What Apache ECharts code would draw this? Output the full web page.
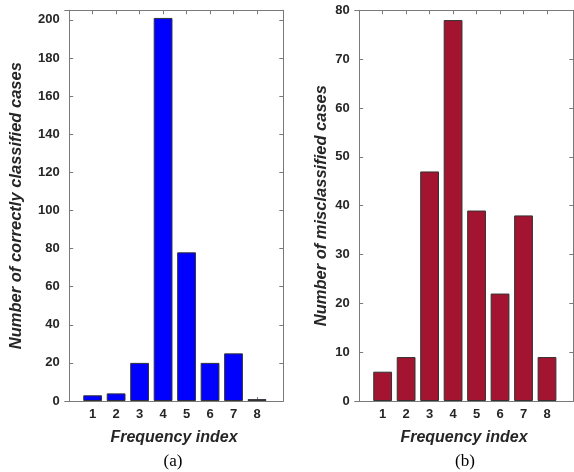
<!DOCTYPE html>
<html>
<head>
<meta charset="utf-8">
<script src="https://cdn.jsdelivr.net/npm/echarts@6/dist/echarts.min.js"></script>
<style>html,body{margin:0;padding:0;background:#fff}#c{width:574px;height:472px}</style>
</head>
<body>
<div id="c"></div>
<script>
const categories = [1, 2, 3, 4, 5, 6, 7, 8];
const correctCases = [3, 4, 20, 201, 78, 20, 25, 1];
const misCases = [6, 9, 47, 78, 39, 22, 38, 9];
const yTicksA = [0, 20, 40, 60, 80, 100, 120, 140, 160, 180, 200];
const yTicksB = [0, 10, 20, 30, 40, 50, 60, 70, 80];
const xTicks = [1, 2, 3, 4, 5, 6, 7, 8];
const xTitle = 'Frequency index';
const yTitleA = 'Number of correctly classified cases';
const yTitleB = 'Number of misclassified cases';
const panelA = '(a)';
const panelB = '(b)';

const axisColor = '#7a7a7a';
const labelColor = '#262626';
const labelFont = { fontFamily: 'Liberation Sans', fontWeight: 'bold', fontSize: 13, color: labelColor };
const xTitleFont = { fontFamily: 'Liberation Sans', fontWeight: 'bold', fontStyle: 'italic', fontSize: 16, color: labelColor };
const yTitleFont = { fontFamily: 'Liberation Sans', fontWeight: 'bold', fontStyle: 'italic', fontSize: 16.5, color: labelColor };
const XMIN = -0.19, XMAX = 9.12;

function xAxes(gi) {
  return [
    { type: 'value', gridIndex: gi, position: 'bottom', min: XMIN, max: XMAX,
      name: xTitle, nameLocation: 'middle', nameGap: 29, nameTextStyle: xTitleFont,
      axisLine: { show: true, lineStyle: { color: axisColor, width: 1 } },
      axisTick: { show: true, inside: true, length: 4, customValues: xTicks, lineStyle: { color: axisColor } },
      axisLabel: Object.assign({ show: true, margin: 7, customValues: xTicks }, labelFont),
      splitLine: { show: false } },
    { type: 'value', gridIndex: gi, position: 'top', min: XMIN, max: XMAX,
      axisLine: { show: true, onZero: false, lineStyle: { color: axisColor, width: 1 } },
      axisTick: { show: true, inside: true, length: 4, customValues: xTicks, lineStyle: { color: axisColor } },
      axisLabel: { show: false }, splitLine: { show: false } }
  ];
}
function yAxes(gi, max, ticks, title, gap) {
  return [
    { type: 'value', gridIndex: gi, position: 'left', min: 0, max: max,
      name: title, nameLocation: 'middle', nameGap: gap, nameTextStyle: yTitleFont,
      axisLine: { show: true, lineStyle: { color: axisColor, width: 1 } },
      axisTick: { show: true, inside: true, length: 4, customValues: ticks, lineStyle: { color: axisColor } },
      axisLabel: Object.assign({ show: true, margin: 5, customValues: ticks }, labelFont),
      splitLine: { show: false } },
    { type: 'value', gridIndex: gi, position: 'right', min: 0, max: max,
      axisLine: { show: true, onZero: false, lineStyle: { color: axisColor, width: 1 } },
      axisTick: { show: true, inside: true, length: 4, customValues: ticks, lineStyle: { color: axisColor } },
      axisLabel: { show: false }, splitLine: { show: false } }
  ];
}

const chart = echarts.init(document.getElementById('c'), null, { renderer: 'canvas' });
chart.setOption({
  animation: false,
  backgroundColor: '#fff',
  grid: [
    { left: 64.7, top: 10.3, width: 218.6, height: 390.7 },
    { left: 354.7, top: 10.3, width: 218.6, height: 390.7 }
  ],
  xAxis: [].concat(xAxes(0), xAxes(1)),
  yAxis: [].concat(yAxes(0, 205, yTicksA, yTitleA, 40), yAxes(1, 80, yTicksB, yTitleB, 25)),
  series: [
    { type: 'bar', xAxisIndex: 0, yAxisIndex: 0, barWidth: '80%',
      data: categories.map((c, i) => [c, correctCases[i]]),
      itemStyle: { color: '#0000ff', borderColor: '#333', borderWidth: 1 } },
    { type: 'bar', xAxisIndex: 2, yAxisIndex: 2, barWidth: '80%',
      data: categories.map((c, i) => [c, misCases[i]]),
      itemStyle: { color: '#A2142F', borderColor: '#333', borderWidth: 1 } }
  ],
  graphic: [
    { type: 'text', x: 173, y: 462, style: { text: panelA, font: '17px "Liberation Serif"', fill: '#000', textAlign: 'center', textVerticalAlign: 'middle' } },
    { type: 'text', x: 465, y: 462, style: { text: panelB, font: '17px "Liberation Serif"', fill: '#000', textAlign: 'center', textVerticalAlign: 'middle' } }
  ]
});
</script>
</body>
</html>
